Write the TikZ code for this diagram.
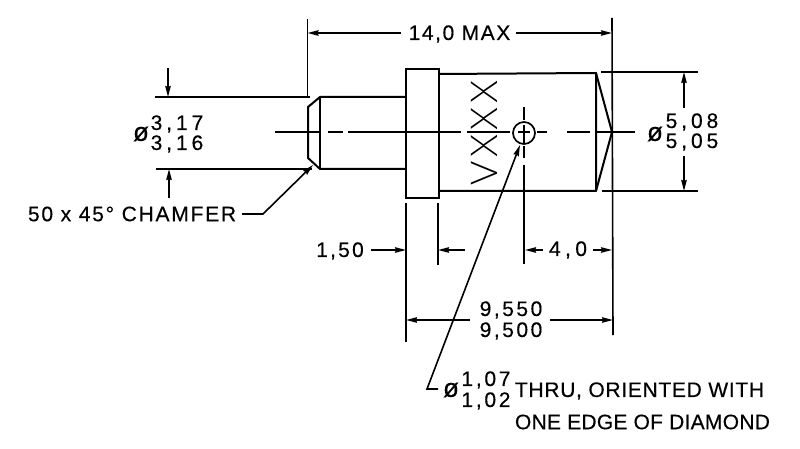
\documentclass[tikz,border=0pt]{standalone}
\usepackage{fontspec}
\setmainfont{Liberation Sans}
\newfontfamily\thinfont{Lato Light}
\usetikzlibrary{arrows.meta}
\newcommand{\dimtext}[1]{\fontsize{21}{23}\selectfont\addfontfeature{LetterSpace=#1,FakeBold=0.35}}
\newcommand{\phisym}{\fontsize{26}{27}\selectfont\addfontfeature{FakeBold=0.3}}
\tikzset{
  x=1pt,y=-1pt,
  part/.style={line width=2pt,line join=round},
  dimline/.style={line width=1.6pt},
  tipped/.style={dimline,-{Stealth[length=11pt,width=5.5pt,inset=1pt]}},
  label/.style={inner sep=0pt,outer sep=0pt,font=\dimtext{#1}},
  label/.default=18.6,
  phi/.style={inner sep=0pt,outer sep=0pt,font=\phisym},
}
\begin{document}
\begin{tikzpicture}
\useasboundingbox (0,0) rectangle (800,449);
\fill[white] (0,0) rectangle (800,449);

% outline coordinates
\coordinate (shaftTL) at (320,97);
\coordinate (shaftBL) at (320,169);
\coordinate (chamTop) at (308,107);
\coordinate (chamBot) at (308,158);
\coordinate (flTL) at (405,68);
\coordinate (bodyTL) at (438,74);
\coordinate (bodyTR) at (596,73);
\coordinate (bodyBR) at (596,191);
\coordinate (bodyBL) at (438,191);
\coordinate (tip) at (612,132);

% part
\draw[part] (405,97) -- (shaftTL) -- (chamTop) -- (chamBot) -- (shaftBL) -- (405,169);
\draw[part] (shaftTL) -- (shaftBL);
\node[draw,line width=2pt,minimum width=33pt,minimum height=129pt,inner sep=0pt,anchor=north west] (flange) at (flTL) {};
\draw[part] (bodyTL) -- (bodyTR) -- (bodyBR) -- (bodyBL);
\draw[part] (bodyTR) -- (tip) -- (bodyBR);
\node[circle,draw,line width=1.7pt,minimum size=22pt,inner sep=0pt] (hole) at (524,133) {};
\node[rotate=90,inner sep=0pt,font=\thinfont\fontsize{37}{37}\selectfont\addfontfeature{LetterSpace=10}] (mark) at (484,133) {VXXX};

% centre lines
\coordinate (clL) at (275,132);
\coordinate (clR) at (635,132);
\coordinate (clT) at (524,107);
\coordinate (clB) at (524,264);
\draw[line width=1.5pt,dash pattern=on 45pt off 8pt on 15pt off 5pt on 113pt off 6pt on 43pt off 8pt on 12pt off 7pt on 10pt off 20pt on 23pt off 5pt on 60pt off 1pt] (clL) -- (clR);
\draw[line width=1.5pt,dash pattern=on 13pt off 5pt on 18pt off 3pt on 12pt off 7pt on 110pt off 1pt] (clT) -- (clB);

% extension lines
\coordinate (e14Lt) at (307.5,19);
\coordinate (e14Lb) at (307.5,97);
\coordinate (e14Rt) at (612,18);
\coordinate (e14Rb) at (613,335);
\draw[dimline] (e14Lt) -- (e14Lb);
\draw[dimline] (e14Rt) -- (e14Rb);
\coordinate (e5Tl) at (601,72);
\coordinate (e5Tr) at (698,72);
\coordinate (e5Bl) at (602,191);
\coordinate (e5Br) at (698,191);
\draw[dimline] (e5Tl) -- (e5Tr);
\draw[dimline] (e5Bl) -- (e5Br);
\coordinate (e3Tl) at (155,97);
\coordinate (e3Tr) at (310,97);
\coordinate (e3Bl) at (156,169);
\coordinate (e3Br) at (312,169);
\draw[dimline] (e3Tl) -- (e3Tr);
\draw[dimline] (e3Bl) -- (e3Br);
\coordinate (eFLt) at (406,203);
\coordinate (eFLb) at (406,342);
\coordinate (eFRt) at (438,203);
\coordinate (eFRb) at (438,265);
\draw[dimline] (eFLt) -- (eFLb);
\draw[dimline] (eFRt) -- (eFRb);

% labels
\node[label=7.5] (max) at (459.5,34) {14,0 MAX};
\node[label] (d508) at (692,122) {5,08};
\node[label] (d505) at (692,142) {5,05};
\node[phi] (phiR) at (655,134) {ø};
\node[label] (d317) at (177,124) {3,17};
\node[label] (d316) at (177,144) {3,16};
\node[phi] (phiL) at (141,134) {ø};
\node[label=8.4,anchor=west] (cham) at (28,214) {50 x 45° CHAMFER};
\node[label=10.6] (d150) at (340,251) {1,50};
\node[label=21] (d40) at (568,250) {4,0};
\node[label=12] (d955) at (511,310) {9,550};
\node[label=12] (d950) at (511,331) {9,500};
\node[label=13] (d107) at (486,380) {1,07};
\node[label=13] (d102) at (486,401) {1,02};
\node[phi] (phiH) at (451,390) {ø};
\node[label=3.3,anchor=west] (thru) at (515,391) {THRU, ORIENTED WITH};
\node[label=1.3,anchor=west] (edge) at (515,422) {ONE EDGE OF DIAMOND};

% dimension lines
\draw[tipped] (401,33) -- (e14Lt |- 0,33);
\draw[tipped] (516,33) -- (e14Rt |- 0,33);
\draw[tipped] (684,108) -- (684,72);
\draw[tipped] (684,156) -- (684,191);
\coordinate (a3T) at (168,68);
\coordinate (a3B) at (169,198);
\draw[tipped] (a3T) -- (a3T |- e3Tl);
\draw[tipped] (a3B) -- (a3B |- e3Bl);
\draw[tipped] (371,250) -- (eFLt |- 0,250);
\draw[tipped] (465,250) -- (eFRt |- 0,250);
\draw[tipped] (543,250) -- (525,250);
\draw[tipped] (593,250) -- (612,250);
\draw[tipped] (470,320) -- (406,320);
\draw[tipped] (550,320) -- (613,320);

% leaders
\coordinate (chamElbow) at (263,214);
\coordinate (chamTip) at (313,165);
\coordinate (chamStart) at (242,214);
\draw[tipped] (chamStart) -- (chamElbow) -- (chamTip);
\coordinate (holeStart) at (438,389);
\coordinate (holeElbow) at (427,389);
\coordinate (holeTip) at (520,145);
\draw[tipped] (holeStart) -- (holeElbow) -- (holeTip);
\end{tikzpicture}
\end{document}
